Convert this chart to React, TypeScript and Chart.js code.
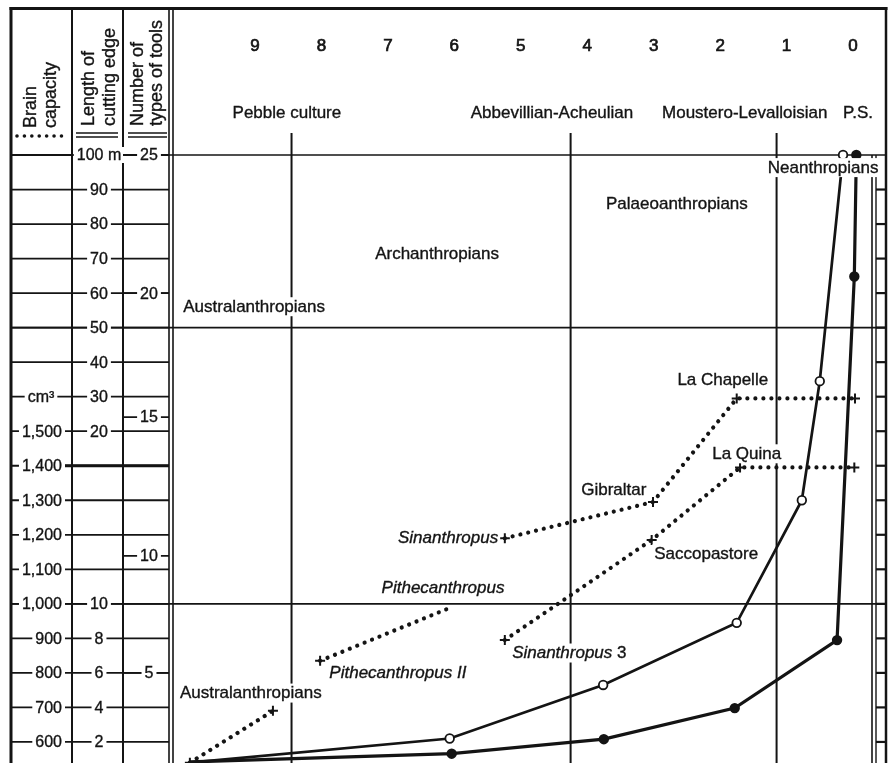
import React, { useEffect, useRef } from 'react';
import { Chart, registerables } from 'chart.js';

Chart.register(...registerables);

const INK = '#141414';
const FONT = '"Liberation Sans", Arial, Helvetica, sans-serif';

// Horizontal axis: time before present (×100,000 years), header row 9 … 0
const timeTicks = [9, 8, 7, 6, 5, 4, 3, 2, 1, 0];
const cultureNames = ['Pebble culture', 'Abbevillian-Acheulian', 'Moustero-Levalloisian', 'P.S.'];
const cultureAt = [8.52, 4.53, 1.63, -0.075];
const cultureBoundaries = [8.45, 4.25, 1.15];

// Grid rows of the brain-capacity scale (cm³), one row per 100 cm³
const gridRows = [500, 600, 700, 800, 900, 1000, 1100, 1200, 1300, 1400, 1500, 1600, 1700, 1800, 1900, 2000, 2100, 2200, 2300];
const mainRows = [1000, 1800, 2300];

// Side scales
const brainTicks = [500, 600, 700, 800, 900, 1000, 1100, 1200, 1300, 1400, 1500];
const edgeTicks = [0, 2, 4, 6, 8, 10, 20, 30, 40, 50, 60, 70, 80, 90, 100];
const toolTicks = [0, 5, 10, 15, 20, 25];
// calibration of the side scales against the brain-capacity rows
const edgeCalValues = [0, 20, 100];
const edgeCalRows = [500, 1500, 2300];
const toolCalRows = [500, 800, 1139, 1541, 1900, 2300];

// Length of cutting edge (m) — open circles
const edgeTime = [9.98, 6.07, 3.76, 1.75, 0.77, 0.5, 0.15];
const edgeMetres = [0.8, 2.2, 5.3, 8.9, 16, 34.5, 100];

// Number of types of tools — filled circles
const toolTime = [9.98, 6.04, 3.75, 1.78, 0.24, -0.02, -0.05];
const toolCount = [0.7, 1.1, 1.8, 3.3, 6.4, 20.6, 25];

// Brain capacity (cm³) — dotted lines
const australTime = [9.98, 8.73];
const australCc = [540, 690];
const pithTime = [8.02, 6.11];
const pithCc = [835, 985];
const sin3Time = [5.24, 3.03, 1.7, -0.02];
const sin3Cc = [895, 1185, 1395, 1395];
const sinTime = [5.24, 3.01, 1.75, -0.03];
const sinCc = [1190, 1295, 1595, 1595];

// Text annotations (time, cm³ row)
const annTexts = ['Australanthropians', 'Archanthropians', 'Palaeoanthropians', 'Neanthropians', 'La Chapelle', 'La Quina', 'Gibraltar', 'Saccopastore', 'Sinanthropus', 'Pithecanthropus', 'Pithecanthropus II', 'Sinanthropus', 'Australanthropians'];
const annTime = [10.08, 6.26, 2.65, 0.45, 1.96, 1.6, 3.6, 2.21, 5.34, 6.17, 6.85, 5.13, 10.13];
const annCc = [1862, 2016, 2161, 2265, 1651, 1436, 1332, 1146, 1193, 1048, 801, 859, 743];
const annAlign: CanvasTextAlign[] = ['left', 'center', 'center', 'center', 'center', 'center', 'center', 'center', 'right', 'center', 'center', 'left', 'left'];
const annItalic = [false, false, false, false, false, false, false, false, true, true, true, true, false];
const annSuffix = ['', '', '', '', '', '', '', '', '', '', '', ' 3', ''];

function interp(v: number, xs: number[], ys: number[]) {
  for (let i = 0; i < xs.length - 1; i++) {
    if (v <= xs[i + 1] || i === xs.length - 2) {
      const t = (v - xs[i]) / (xs[i + 1] - xs[i]);
      return ys[i] + t * (ys[i + 1] - ys[i]);
    }
  }
  return ys[0];
}
const edgeRow = (m: number) => interp(m, edgeCalValues, edgeCalRows);
const toolRow = (n: number) => interp(n, toolTicks, toolCalRows);

function solidSet(xs: number[], ys: number[], conv: (v: number) => number, filled: boolean) {
  return {
    data: xs.map((x, i) => ({ x, y: conv(ys[i]) })),
    borderColor: INK,
    borderWidth: filled ? 3.2 : 2.7,
    pointRadius: xs.map((_, i) => (i === 0 ? 0 : 4.3)),
    pointStyle: 'circle',
    pointBackgroundColor: filled ? INK : '#fff',
    pointBorderColor: INK,
    pointBorderWidth: 1.8,
    fill: false,
    tension: 0,
    clip: false,
  };
}
function dottedSet(xs: number[], ys: number[], plus: boolean[]) {
  return {
    data: xs.map((x, i) => ({ x, y: ys[i] })),
    borderColor: INK,
    borderWidth: 4.2,
    borderDash: [0.01, 8],
    borderCapStyle: 'round',
    borderJoinStyle: 'round',
    pointStyle: 'cross',
    pointRadius: plus.map((p) => (p ? 5 : 0)),
    pointBorderColor: INK,
    pointBorderWidth: 2,
    fill: false,
    tension: 0,
    clip: false,
  };
}

function inkText(ctx: CanvasRenderingContext2D, s: string, x: number, y: number) {
  ctx.fillText(s, x, y);
  ctx.lineWidth = 0.35;
  ctx.strokeText(s, x, y);
}

function drawFrame(chart: any) {
  const { ctx } = chart;
  const xs = chart.scales.x;
  const ys = chart.scales.y;
  const X = (v: number) => xs.getPixelForValue(v);
  const Y = (v: number) => ys.getPixelForValue(v);
  const H = chart.height;
  const left = chart.chartArea.left;
  const right = chart.chartArea.right;
  const top = chart.chartArea.top;
  const BORDER_R = 886;

  ctx.save();
  ctx.strokeStyle = INK;
  ctx.fillStyle = INK;
  ctx.lineCap = 'butt';
  const line = (x1: number, y1: number, x2: number, y2: number, w: number) => {
    ctx.lineWidth = w;
    ctx.beginPath();
    ctx.moveTo(x1, y1);
    ctx.lineTo(x2, y2);
    ctx.stroke();
  };

  // rows through the three side columns
  gridRows.forEach((r) => line(11, Y(r), left - 4, Y(r), 1.8));
  line(62, Y(1400), left - 4, Y(1400), 3);
  // main horizontal rules
  mainRows.forEach((r) => line(11, Y(r), BORDER_R, Y(r), 1.7));
  // right-hand ticks
  gridRows.filter((r) => r < 2300).forEach((r) => line(right + 4, Y(r), BORDER_R, Y(r), 2.2));

  // verticals
  line(11, 7, 11, H, 3);
  line(72, 7, 72, H, 2);
  line(123, 7, 123, H, 2);
  line(left - 4, 7, left - 4, H, 1.6);
  line(left, 7, left, H, 1.6);
  cultureBoundaries.forEach((b) => line(X(b), 133, X(b), H, 2));
  line(right, top, right, H, 1.6);
  line(right + 4, top, right + 4, H, 1.4);
  line(BORDER_R, 7, BORDER_R, H, 2.5);
  line(9.5, 8.5, 887.5, 8.5, 3);

  // header row: time numbers and cultures
  ctx.textBaseline = 'middle';
  ctx.textAlign = 'center';
  ctx.font = `17px ${FONT}`;
  timeTicks.forEach((t) => {
    ctx.lineWidth = 0.7;
    ctx.fillText(String(t), X(t), 46);
    ctx.strokeText(String(t), X(t), 46);
  });
  cultureNames.forEach((c, i) => inkText(ctx, c, X(cultureAt[i]), 113));

  // rotated column headings
  ctx.font = `18px ${FONT}`;
  const vtext = (s: string, x: number, y: number) => {
    ctx.save();
    ctx.translate(x, y);
    ctx.rotate(-Math.PI / 2);
    ctx.textAlign = 'left';
    ctx.textBaseline = 'middle';
    inkText(ctx, s, 0, 0);
    ctx.restore();
  };
  vtext('Brain', 31, 128);
  vtext('capacity', 51, 128);
  vtext('Length of', 89, 126);
  vtext('cutting edge', 110, 126);
  vtext('Number of', 138, 126);
  vtext('types of tools', 157, 126);

  // key marks under headings
  ctx.save();
  ctx.setLineDash([0.01, 7.4]);
  ctx.lineCap = 'round';
  line(17, 136, 64, 136, 3.6);
  ctx.restore();
  line(76, 133, 118, 133, 1.5);
  line(76, 137, 118, 137, 1.5);
  line(128, 133, 167, 133, 1.5);
  line(128, 137, 167, 137, 1.5);

  // scale labels
  ctx.font = `16px ${FONT}`;
  const label = (s: string, x: number, y: number, align: string) => {
    const w = ctx.measureText(s).width;
    const lx = align === 'right' ? x - w : align === 'center' ? x - w / 2 : x;
    ctx.fillStyle = '#fff';
    ctx.fillRect(lx - 3, y - 8, w + 6, 16);
    ctx.fillStyle = INK;
    ctx.textAlign = 'left';
    ctx.textBaseline = 'middle';
    inkText(ctx, s, lx, y + 1);
  };
  brainTicks.forEach((v) => label(v.toLocaleString('en-US'), 62, Y(v), 'right'));
  label('cm³', 41, Y(1600), 'center');
  edgeTicks.forEach((v) => label(v === 100 ? '100 m' : String(v), 99, Y(edgeRow(v)), 'center'));
  toolTicks.forEach((v) => {
    const y = Y(toolRow(v));
    line(123, y, left - 4, y, 1.8);
    label(String(v), 149, y, 'center');
  });
  ctx.restore();
}

function drawAnnotations(chart: any) {
  const { ctx } = chart;
  const X = (v: number) => chart.scales.x.getPixelForValue(v);
  const Y = (v: number) => chart.scales.y.getPixelForValue(v);
  ctx.save();
  ctx.textBaseline = 'middle';
  ctx.textAlign = 'left';
  ctx.strokeStyle = INK;
  annTexts.forEach((t, i) => {
    const main = `${annItalic[i] ? 'italic ' : ''}17px ${FONT}`;
    const plain = `17px ${FONT}`;
    ctx.font = main;
    const w1 = ctx.measureText(t).width;
    ctx.font = plain;
    const w2 = annSuffix[i] ? ctx.measureText(annSuffix[i]).width : 0;
    const w = w1 + w2;
    const x = X(annTime[i]);
    const y = Y(annCc[i]);
    const lx = annAlign[i] === 'right' ? x - w : annAlign[i] === 'center' ? x - w / 2 : x;
    ctx.fillStyle = '#fff';
    ctx.fillRect(lx - 2, y - 9, w + 4, 19);
    ctx.fillStyle = INK;
    ctx.font = main;
    inkText(ctx, t, lx, y + 1);
    if (annSuffix[i]) {
      ctx.font = plain;
      inkText(ctx, annSuffix[i], lx + w1, y + 1);
    }
  });
  ctx.restore();
}

const framePlugin = {
  id: 'frame',
  beforeDraw(chart: any) {
    const { ctx } = chart;
    ctx.save();
    ctx.fillStyle = '#fff';
    ctx.fillRect(0, 0, chart.width, chart.height);
    ctx.restore();
  },
  beforeDatasetsDraw(chart: any) {
    drawFrame(chart);
  },
  afterDatasetsDraw(chart: any) {
    drawAnnotations(chart);
  },
};

export default function App() {
  const ref = useRef<HTMLCanvasElement | null>(null);
  useEffect(() => {
    if (!ref.current) return;
    const chart = new Chart(ref.current, {
      type: 'line',
      data: {
        datasets: [
          solidSet(edgeTime, edgeMetres, edgeRow, false),
          solidSet(toolTime, toolCount, toolRow, true),
          dottedSet(australTime, australCc, [true, true]),
          dottedSet(pithTime, pithCc, [true, false]),
          dottedSet(sin3Time, sin3Cc, [true, true, true, true]),
          dottedSet(sinTime, sinCc, [true, true, true, true]),
        ] as any,
      },
      options: {
        animation: false,
        responsive: false,
        devicePixelRatio: 1,
        layout: { autoPadding: false, padding: { left: 173, right: 16, top: 155, bottom: 0 } },
        scales: {
          x: { type: 'linear', reverse: true, min: -0.286, max: 10.234, display: false },
          y: { type: 'linear', min: 539, max: 2300, display: false },
        },
        plugins: { legend: { display: false }, tooltip: { enabled: false } },
      } as any,
      plugins: [framePlugin],
    });
    return () => chart.destroy();
  }, []);
  return (
    <div style={{ position: 'absolute', left: 0, top: 0, width: 888, height: 763, background: '#fff' }}>
      <canvas ref={ref} width={888} height={763} style={{ width: 888, height: 763, display: 'block' }} />
    </div>
  );
}
